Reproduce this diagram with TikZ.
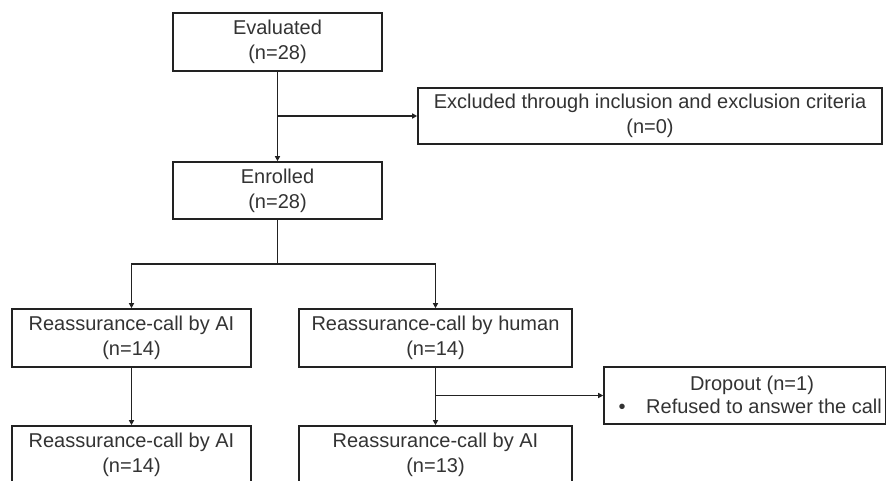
\documentclass[tikz,border=0pt]{standalone}
\usepackage{fontspec}
\setmainfont{Liberation Sans}
\usetikzlibrary{arrows.meta}
\definecolor{linec}{HTML}{222222}
\definecolor{textc}{HTML}{333333}
\begin{document}
\begin{tikzpicture}[x=1pt,y=-1pt,
  box/.style={draw=linec, line width=1.6pt, fill=white, text=textc, align=center,
    font=\fontsize{20}{25}\selectfont, inner sep=0pt, minimum width=#1, minimum height=58pt},
  box/.default=209pt,
  txt/.style={text=textc, font=\fontsize{20}{25}\selectfont, inner sep=0pt},
  conn/.style={draw=linec, line width=1.5pt, -{Triangle[length=5pt,width=5pt]}},
  plain/.style={draw=linec, line width=1.5pt}]
\useasboundingbox (0,0) rectangle (887,480);
\clip (0,0) rectangle (887,480);

\node[box] (eval) at (277.5,42) {Evaluated\\(n=28)};
\node[box, minimum height=57pt] (enr) at (277.5,190.5) {Enrolled\\(n=28)};
\node[box=464pt, minimum height=56pt] (excl) at (650,116) {Excluded through inclusion and exclusion criteria\\(n=0)};
\node[box=238.5pt] (ai1) at (131.5,338) {Reassurance-call by AI\\(n=14)};
\node[box=273pt] (hum) at (435.5,338) {Reassurance-call by human\\(n=14)};
\node[box=238.5pt] (ai2) at (131.5,455) {Reassurance-call by AI\\(n=14)};
\node[box=273pt] (ai3) at (435.5,455) {Reassurance-call by AI\\(n=13)};
\node[box=281.5pt, minimum height=57pt] (drop) at (744.75,395.5) {};
\node[txt, anchor=base] (droptitle) at (752,390) {Dropout (n=1)};
\node[txt, anchor=base] (dropbullet) at (622,413.5) {•};
\node[txt, anchor=base west] (dropreason) at (646,413.5) {Refused to answer the call};

\coordinate (b1) at (eval.south |- excl.west);
\draw[conn] (eval.south) -- (enr.north);
\draw[conn] (b1) -- (excl.west);

\coordinate (split) at (277.5,264);
\draw[plain] (enr.south) -- (split);
\draw[conn] (split) -| (ai1.north);
\draw[conn] (split) -| (hum.north);

\draw[conn] (ai1.south) -- (ai2.north);
\draw[conn] (hum.south) -- (ai3.north);
\coordinate (b2) at (hum.south |- drop.west);
\draw[conn] (b2) -- (drop.west);
\end{tikzpicture}
\end{document}
